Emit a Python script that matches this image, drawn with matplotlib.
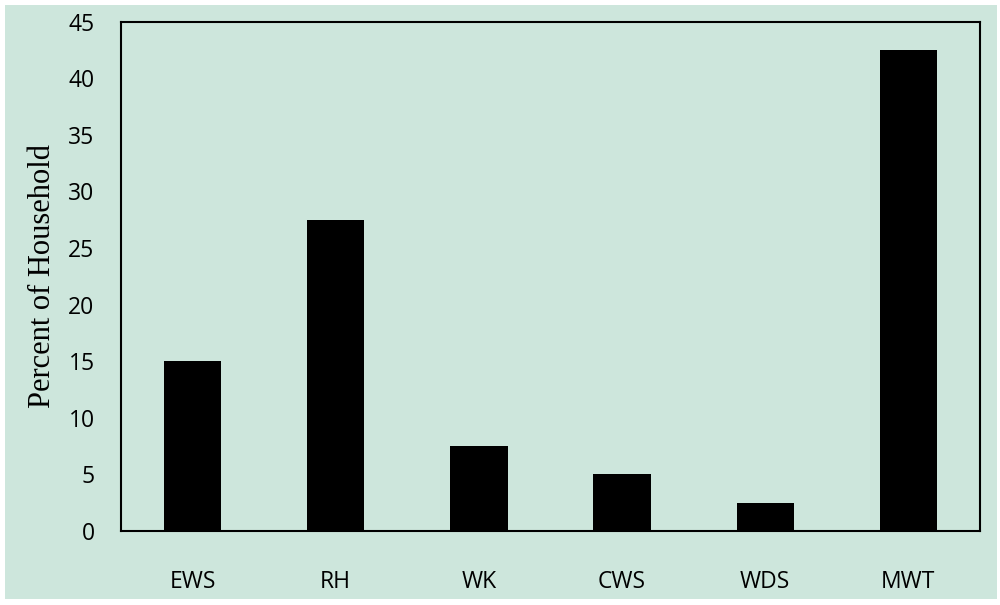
import matplotlib.pyplot as plt
from matplotlib.patches import Rectangle

# Data
categories = ["EWS", "RH", "WK", "CWS", "WDS", "MWT"]
percent = [15, 27.5, 7.5, 5, 2.5, 42.5]
yticks = [0, 5, 10, 15, 20, 25, 30, 35, 40, 45]

bg = "#cde6dc"

fig = plt.figure(figsize=(10, 6.05), dpi=100, facecolor="white")
# mint panel behind everything
fig.patches.append(Rectangle((0.005, 0.01), 0.992, 0.982, transform=fig.transFigure,
                             facecolor=bg, edgecolor="none", zorder=-5))

ax = fig.add_axes([0.121, 0.1225, 0.859, 0.8415])
ax.set_facecolor(bg)

x = range(len(categories))
ax.bar(x, percent, width=0.4, color="black")

ax.set_xlim(-0.5, len(categories) - 0.5)
ax.set_ylim(0, 45)
ax.set_yticks(yticks)
ax.set_xticks(list(x))
ax.set_xticklabels(categories)

for s in ax.spines.values():
    s.set_color("black")
    s.set_linewidth(1.5)

ax.tick_params(axis="both", length=0, labelsize=16.5, colors="black")
ax.tick_params(axis="y", pad=19)
ax.tick_params(axis="x", pad=28)
for lbl in ax.get_xticklabels() + ax.get_yticklabels():
    lbl.set_family(["Open Sans", "DejaVu Sans"])

ax.set_ylabel("Percent of Household", fontsize=22, family=["Liberation Serif", "DejaVu Serif"],
              labelpad=8)

fig.savefig("out.png", dpi=100, facecolor="white")
